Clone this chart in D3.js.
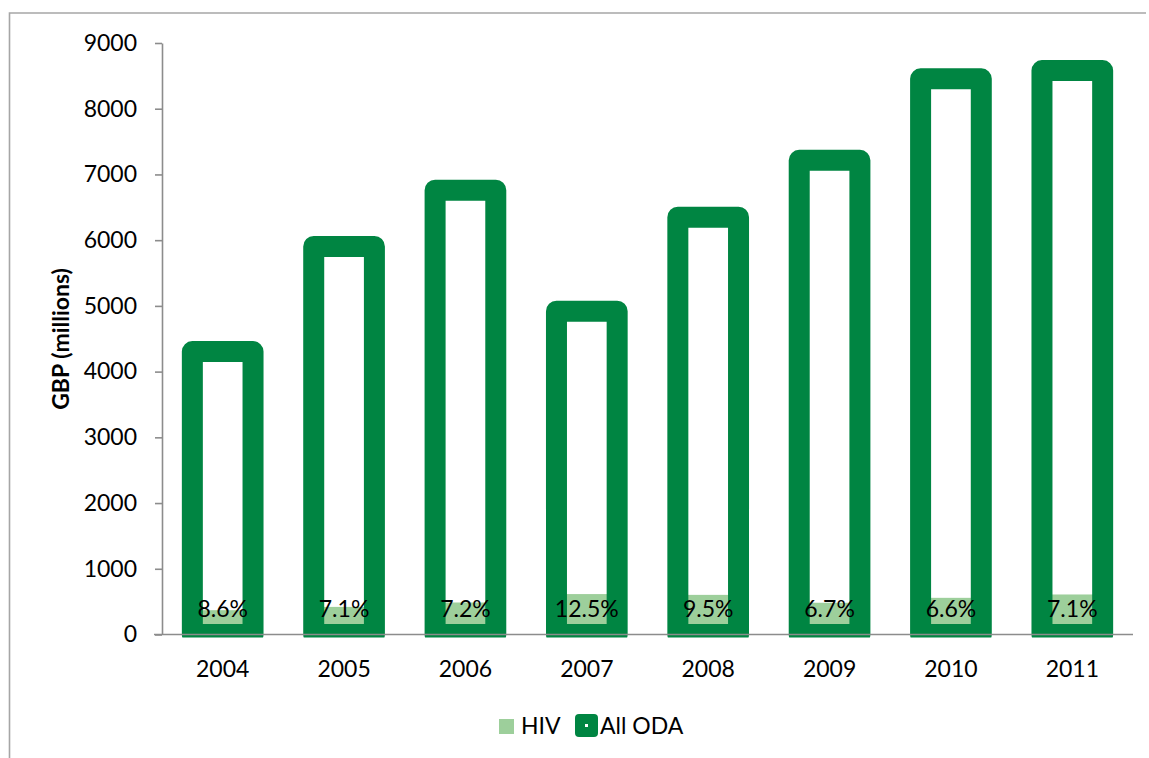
<!DOCTYPE html>
<html>
<head>
<meta charset="utf-8">
<script src="https://cdn.jsdelivr.net/npm/d3@7"></script>
<style>
  body { margin: 0; background: #fff; }
  svg { display: block; }
  text { font-family: Lato, "Open Sans", sans-serif; fill: #000; }
</style>
</head>
<body>
<svg id="chart" width="1149" height="758"></svg>
<script>
// UK official development assistance and the HIV share of it, GBP millions
const years = ["2004", "2005", "2006", "2007", "2008", "2009", "2010", "2011"];
const allOda = [4305, 5905, 6760, 4920, 6350, 7215, 8455, 8580];
const hivSpend = [370, 420, 487, 615, 603, 483, 558, 609];
const yTicks = [0, 1000, 2000, 3000, 4000, 5000, 6000, 7000, 8000, 9000];
const seriesNames = ["HIV", "All ODA"];

const odaGreen = "#008542";
const hivGreen = "#9dcf9b";
const axisGrey = "#8c8c8c";
const fontSize = 23;

const svg = d3.select("#chart");

// outer chart frame (top and left edges)
svg.append("path")
  .attr("d", "M9.5,758 V13 H1146")
  .attr("fill", "none")
  .attr("stroke", "#a6a6a6")
  .attr("stroke-width", 1.6);

const plot = { left: 162, right: 1133, top: 43, bottom: 634.5 };

const x = d3.scaleBand()
  .domain(years)
  .range([plot.left, plot.right])
  .paddingInner(0.5)
  .paddingOuter(0.25);

const y = d3.scaleLinear()
  .domain([0, 9000])
  .range([plot.bottom, plot.top]);

// bars are clipped just below the category axis
svg.append("defs").append("clipPath").attr("id", "plot-clip")
  .append("rect")
  .attr("x", 0).attr("y", 0)
  .attr("width", 1149).attr("height", plot.bottom + 3);

const rows = years.map((yr, i) => ({ year: yr, oda: allOda[i], hiv: hivSpend[i] }));

const bars = svg.append("g").attr("clip-path", "url(#plot-clip)");

// HIV spend, sitting inside the ODA outline
bars.selectAll("rect.hiv")
  .data(rows)
  .join("rect")
  .attr("class", "hiv")
  .attr("x", d => x(d.year))
  .attr("width", x.bandwidth())
  .attr("y", d => y(d.hiv))
  .attr("height", d => y(0) - y(d.hiv))
  .attr("fill", hivGreen);

// All ODA as a thick hollow outline
bars.selectAll("rect.oda")
  .data(rows)
  .join("rect")
  .attr("class", "oda")
  .attr("x", d => x(d.year))
  .attr("width", x.bandwidth())
  .attr("y", d => y(d.oda))
  .attr("height", d => y(0) - y(d.oda))
  .attr("fill", "none")
  .attr("stroke", odaGreen)
  .attr("stroke-width", 21)
  .attr("stroke-linejoin", "round");

// y axis
const yAxis = svg.append("g")
  .attr("transform", `translate(${plot.left},0)`)
  .call(d3.axisLeft(y).tickValues(yTicks).tickFormat(d3.format("d"))
    .tickSizeInner(7).tickSizeOuter(0).tickPadding(18));
yAxis.select(".domain").attr("stroke", axisGrey).attr("stroke-width", 1.6);
yAxis.selectAll(".tick line").attr("stroke", axisGrey).attr("stroke-width", 1.6);
yAxis.selectAll(".tick text").attr("font-size", fontSize).attr("fill", "#000")
  .attr("font-family", "Lato, 'Open Sans', sans-serif");

// x axis
const xAxis = svg.append("g")
  .attr("transform", `translate(0,${plot.bottom})`)
  .call(d3.axisBottom(x).tickSize(0).tickPadding(26));
xAxis.select(".domain")
  .attr("d", `M${plot.left - 8},0H${plot.right}`)
  .attr("stroke", axisGrey).attr("stroke-width", 1.6);
xAxis.selectAll(".tick text").attr("font-size", fontSize).attr("fill", "#000")
  .attr("font-family", "Lato, 'Open Sans', sans-serif");

// HIV share labels
svg.append("g").selectAll("text")
  .data(rows)
  .join("text")
  .attr("x", d => x(d.year) + x.bandwidth() / 2)
  .attr("y", y(0) - 18)
  .attr("text-anchor", "middle")
  .attr("font-size", fontSize)
  .text(d => (d.hiv / d.oda * 100).toFixed(1) + "%");

// y axis title
svg.append("text")
  .attr("transform", "translate(69,339) rotate(-90)")
  .attr("text-anchor", "middle")
  .attr("font-size", 23)
  .attr("font-weight", "bold")
  .text("GBP (millions)");

// legend
const legend = svg.append("g");
const hivItem = legend.append("g").attr("transform", "translate(499,719)");
hivItem.append("rect").attr("width", 15).attr("height", 15).attr("fill", hivGreen);
hivItem.append("text").attr("x", 22).attr("y", 15).attr("font-size", fontSize).text(seriesNames[0]);

const odaItem = legend.append("g").attr("transform", "translate(575,714)");
odaItem.append("rect").attr("x", 0).attr("y", 0).attr("width", 23).attr("height", 23)
  .attr("rx", 4).attr("fill", odaGreen);
odaItem.append("rect").attr("x", 10).attr("y", 10).attr("width", 3).attr("height", 3)
  .attr("fill", "#fff");
odaItem.append("text").attr("x", 25).attr("y", 20).attr("font-size", fontSize).text(seriesNames[1]);
</script>
</body>
</html>
